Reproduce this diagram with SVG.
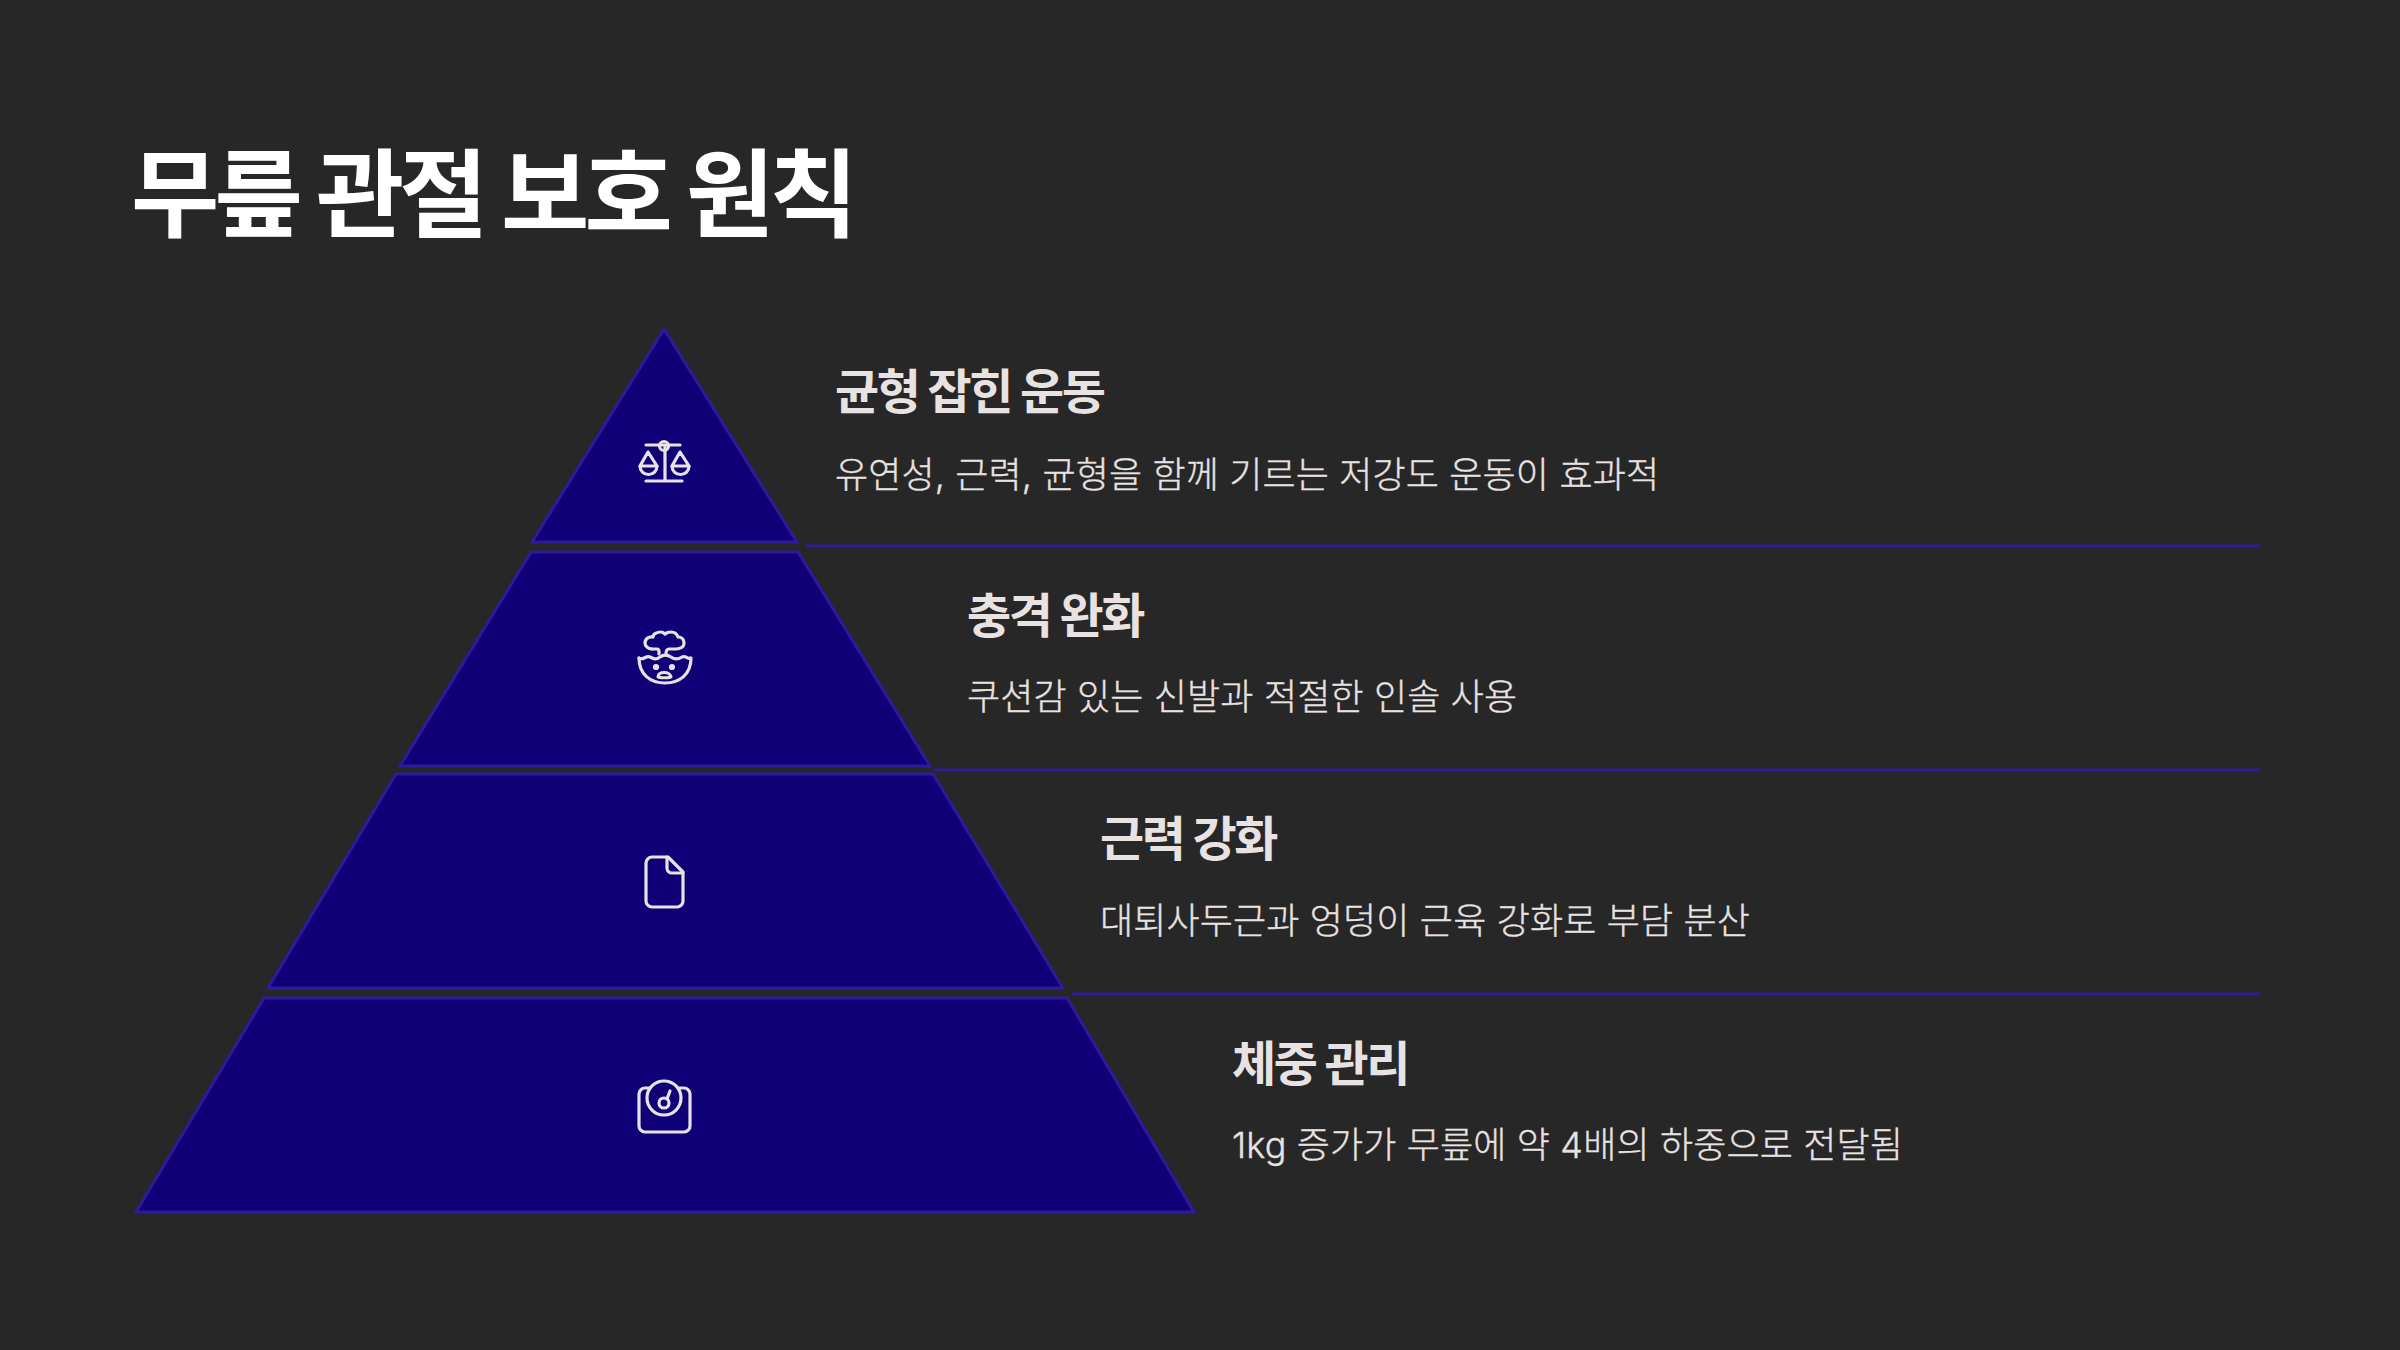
<svg xmlns="http://www.w3.org/2000/svg" width="2400" height="1350" viewBox="0 0 2400 1350">
<style>
text{font-family:"Inter","Noto Sans CJK KR",sans-serif;fill:#e8e2e2}
.t{font-size:96px;font-weight:700;fill:#fff;letter-spacing:-4.800px}
.h{font-size:48px;font-weight:700;letter-spacing:-2.400px}
.d{font-size:36px;font-weight:300;letter-spacing:.14px;stroke:#e8e2e2;stroke-width:.35px}
.tier{fill:#100078;stroke:#2e1a9a;stroke-width:3;stroke-linejoin:miter}
.sep{stroke:#2e1a9a;stroke-width:3;fill:none}
.ic{fill:none;stroke:#e8e2e2;stroke-width:3.200;stroke-linecap:round;stroke-linejoin:round}
</style>
<rect width="2400" height="1350" fill="#282727"/>
<text class="t" x="131" y="229">무릎 관절 보호 원칙</text>
<g id="connectors">
<path class="sep" d="M806 546H2260M934 770H2260M1072 994H2260"/>
</g>
<g id="tier1">
<path class="tier" d="M664 329L797 542H532Z"/>
<g class="ic"><path d="M646 445H680M665 445V481M646 481H682"/><circle cx="664" cy="446" r="4.500"/><path d="M648 452L640 466H657ZM680 452L672 466H689Z"/><path d="M640 466a8.500 8.500 0 0 0 17 0M672 466a8.500 8.500 0 0 0 17 0"/></g>
<text class="h" x="835" y="409">균형 잡힌 운동</text>
<text class="d" x="835" y="488">유연성, 근력, 균형을 함께 기르는 저강도 운동이 효과적</text>
</g>
<g id="tier2">
<path class="tier" d="M531 552H798L930 766H400Z"/>
<g class="ic"><path d="M639 658c4 3 7-3 11-1c4 2 6 3 10 0c4-3 8-2 11 0c4 3 8 2 11 0c4-2 6 3 8 1"/><path d="M639 658c0 17 12 25 26 25s26-8 26-25"/><path d="M652 649c-4 0-7-3-7-6c0-4 4-7 8-6c0-3 4-5 8-5c2 0 3 1 4 2c2-2 4-2 6-2c4 0 6 2 7 5c4 0 6 3 6 6c0 4-4 6-8 6h-7c-2 0-3 2-3 5"/><path d="M652 649h5c2 0 2 1 2 3v2"/><path d="M658 677c0-6 12-6 13 0c0 1-13 1-13 0Z"/><circle cx="656" cy="667" r="1.500"/><circle cx="672" cy="667" r="1.500"/></g>
<text class="h" x="967" y="633">충격 완화</text>
<text class="d" x="967" y="710">쿠션감 있는 신발과 적절한 인솔 사용</text>
</g>
<g id="tier3">
<path class="tier" d="M396 774H933L1063 988H268Z"/>
<g class="ic"><path d="M668 857H652a6 6 0 0 0-6 6V901a6 6 0 0 0 6 6H677a6 6 0 0 0 6-6V872Z"/><path d="M667 857V868a5 5 0 0 0 5 5H683"/></g>
<text class="h" x="1100" y="856">근력 강화</text>
<text class="d" x="1100" y="934">대퇴사두근과 엉덩이 근육 강화로 부담 분산</text>
</g>
<g id="tier4">
<path class="tier" d="M264 998H1067L1194 1212H136Z"/>
<g class="ic"><path d="M650 1088h-5a6 6 0 0 0-6 6v32a6 6 0 0 0 6 6h39a6 6 0 0 0 6-6v-32a6 6 0 0 0-6-6h-5"/><circle cx="664" cy="1098" r="17"/><circle cx="664" cy="1103" r="5"/><path d="M667 1099l3-8"/></g>
<text class="h" x="1232" y="1081">체중 관리</text>
<text class="d" x="1232" y="1158">1kg 증가가 무릎에 약 4배의 하중으로 전달됨</text>
</g>
</svg>
